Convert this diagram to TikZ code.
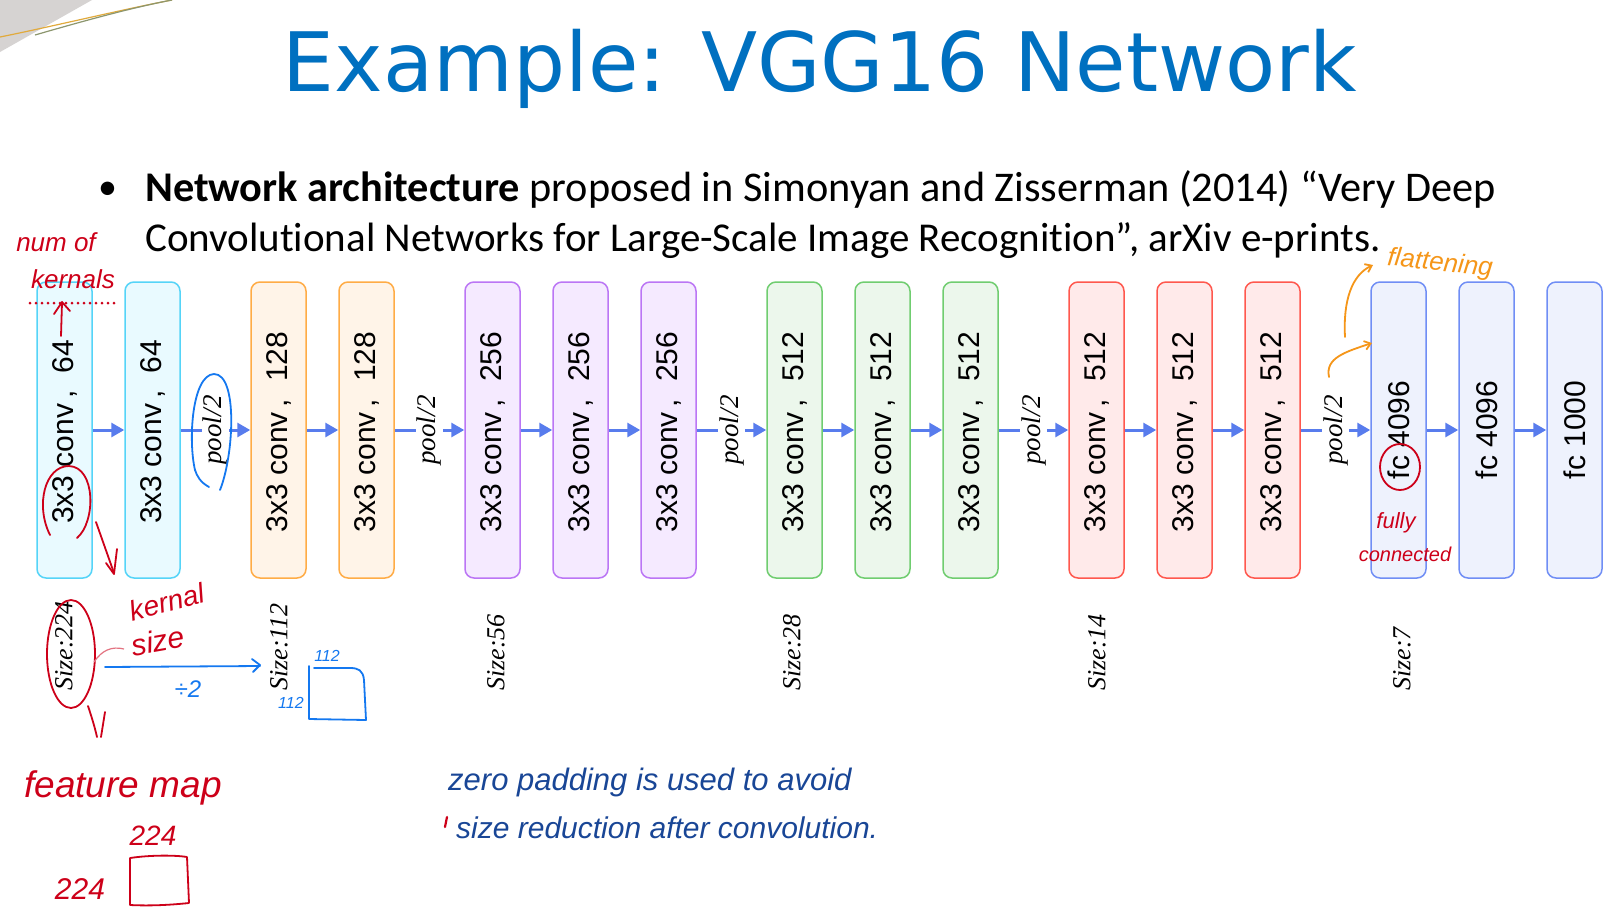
\documentclass[tikz,border=0pt]{standalone}
\usepackage{fontspec}
\setmainfont{Carlito}[Ligatures=NoCommon]
\newfontfamily\titlefont{DejaVu Sans}
\newfontfamily\arialfont{Liberation Sans}
\newfontfamily\timesfont{Liberation Serif}
\newfontfamily\handfont{Liberation Sans}
\usetikzlibrary{arrows.meta}

\definecolor{titleblue}{RGB}{0,112,192}
\definecolor{arrowblue}{RGB}{88,124,237}
\definecolor{cyanB}{RGB}{85,212,248}   \definecolor{cyanF}{RGB}{233,250,255}
\definecolor{orangeB}{RGB}{255,172,70} \definecolor{orangeF}{RGB}{255,244,232}
\definecolor{purpleB}{RGB}{187,118,245}\definecolor{purpleF}{RGB}{245,234,255}
\definecolor{greenB}{RGB}{112,205,112} \definecolor{greenF}{RGB}{236,247,236}
\definecolor{redB}{RGB}{255,88,78}     \definecolor{redF}{RGB}{255,234,234}
\definecolor{blueB}{RGB}{112,142,245}  \definecolor{blueF}{RGB}{238,242,253}
\definecolor{inkred}{RGB}{205,0,25}
\definecolor{inkblue}{RGB}{20,120,240}
\definecolor{inknavy}{RGB}{25,70,150}
\definecolor{inkorange}{RGB}{245,150,25}
\definecolor{slidegrey}{RGB}{214,211,210}
\definecolor{slidegold}{RGB}{225,170,60}
\definecolor{slideolive}{RGB}{140,150,110}

\newcommand{\convtxt}[1]{\rotatebox{90}{3x3 conv\hspace{5pt},\hspace{17pt}#1\hspace{4pt}}}
\newcommand{\fctxt}[1]{\rotatebox{90}{fc #1}}

\tikzset{
  layer/.style 2 args={draw=#1, fill=#2, line width=1.5pt, rounded corners=9pt,
    minimum width=55pt, minimum height=296pt, inner sep=0pt,
    font=\arialfont\fontsize{30}{36}\selectfont},
  arr/.style={draw=arrowblue, line width=3pt, -{Triangle[length=13pt,width=14pt]}},
  poollbl/.style={fill=white, inner sep=1pt, font=\timesfont\itshape\fontsize{27}{30}\selectfont},
  sizelbl/.style={anchor=south, inner sep=0pt, font=\timesfont\itshape\fontsize{26}{30}\selectfont},
  hand/.style={inner sep=0pt, font=\handfont\itshape\fontsize{#1}{#1}\selectfont},
  pen/.style={line width=1.8pt, line cap=round, line join=round},
}

\begin{document}
\begin{tikzpicture}[x=1pt, y=-1pt]
\useasboundingbox (0,0) rectangle (1619,919);
\fill[white] (0,0) rectangle (1619,919);

% slide corner decoration
\fill[slidegrey] (0,0) -- (92,0) -- (0,52) -- cycle;
\draw[slidegold, line width=1.2pt] (0,37) .. controls (50,27) and (120,10) .. (172,0);
\draw[slideolive, line width=1.2pt] (35,35) .. controls (80,22) and (130,8) .. (172,0);

% title and bullet text
\node[anchor=base, inner sep=0pt, text=titleblue, font=\titlefont\fontsize{82}{90}\selectfont]
  (title) at (820,91) {Example: VGG16 Network};
\node[anchor=base west, inner sep=0pt, font=\fontsize{38}{44}\selectfont] (dot) at (98,199) {•};
\node[anchor=base west, inner sep=0pt, font=\fontsize{42.3}{50}\selectfont] (line1) at (145,201)
  {\textbf{Network architecture} proposed in Simonyan and Zisserman (2014) “Very Deep};
\node[anchor=base west, inner sep=0pt, font=\fontsize{41}{50}\selectfont] (line2) at (145,251)
  {Convolutional Networks for Large-Scale Image Recognition”, arXiv e-prints.};

% layers
\node[layer={cyanB}{cyanF}]     (b1)  at (64.5,430)   {\convtxt{64}};
\node[layer={cyanB}{cyanF}]     (b2)  at (152.5,430)  {\convtxt{64}};
\node[layer={orangeB}{orangeF}] (b3)  at (278.5,430)  {\convtxt{128}};
\node[layer={orangeB}{orangeF}] (b4)  at (366.5,430)  {\convtxt{128}};
\node[layer={purpleB}{purpleF}] (b5)  at (492.5,430)  {\convtxt{256}};
\node[layer={purpleB}{purpleF}] (b6)  at (580.5,430)  {\convtxt{256}};
\node[layer={purpleB}{purpleF}] (b7)  at (668.5,430)  {\convtxt{256}};
\node[layer={greenB}{greenF}]   (b8)  at (794.5,430)  {\convtxt{512}};
\node[layer={greenB}{greenF}]   (b9)  at (882.5,430)  {\convtxt{512}};
\node[layer={greenB}{greenF}]   (b10) at (970.5,430)  {\convtxt{512}};
\node[layer={redB}{redF}]       (b11) at (1096.5,430) {\convtxt{512}};
\node[layer={redB}{redF}]       (b12) at (1184.5,430) {\convtxt{512}};
\node[layer={redB}{redF}]       (b13) at (1272.5,430) {\convtxt{512}};
\node[layer={blueB}{blueF}]     (b14) at (1398.5,430) {\fctxt{4096}};
\node[layer={blueB}{blueF}]     (b15) at (1486.5,430) {\fctxt{4096}};
\node[layer={blueB}{blueF}]     (b16) at (1574.5,430) {\fctxt{1000}};

% connections
\draw[arr] (b1.east) -- (b2.west);
\draw[arr] (b2.east) -- node[poollbl] (p1) {\rotatebox{90}{pool/2}} (b3.west);
\draw[arr] (b3.east) -- (b4.west);
\draw[arr] (b4.east) -- node[poollbl] (p2) {\rotatebox{90}{pool/2}} (b5.west);
\draw[arr] (b5.east) -- (b6.west);
\draw[arr] (b6.east) -- (b7.west);
\draw[arr] (b7.east) -- node[poollbl] (p3) {\rotatebox{90}{pool/2}} (b8.west);
\draw[arr] (b8.east) -- (b9.west);
\draw[arr] (b9.east) -- (b10.west);
\draw[arr] (b10.east) -- node[poollbl] (p4) {\rotatebox{90}{pool/2}} (b11.west);
\draw[arr] (b11.east) -- (b12.west);
\draw[arr] (b12.east) -- (b13.west);
\draw[arr] (b13.east) -- node[poollbl] (p5) {\rotatebox{90}{pool/2}} (b14.west);
\draw[arr] (b14.east) -- (b15.west);
\draw[arr] (b15.east) -- (b16.west);

% feature map sizes
\node[sizelbl] (s1) at (64,691)   {\rotatebox{90}{Size:224}};
\node[sizelbl] (s2) at (279,691)  {\rotatebox{90}{Size:112}};
\node[sizelbl] (s3) at (496,691)  {\rotatebox{90}{Size:56}};
\node[sizelbl] (s4) at (792,691)  {\rotatebox{90}{Size:28}};
\node[sizelbl] (s5) at (1097,691) {\rotatebox{90}{Size:14}};
\node[sizelbl] (s6) at (1402,691) {\rotatebox{90}{Size:7}};

% ---- red notes: kernels and kernel size ----
\node[hand=26, text=inkred] (numof) at (56,242) {num of};
\node[hand=26, text=inkred] (kernals) at (73,279) {kernals};
\draw[inkred, line width=3pt, line cap=round, dash pattern=on 0pt off 6pt] (30,303) -- (116,303);
\draw[inkred, pen] (61,336) -- (62,303);
\draw[inkred, pen] (54,314) -- (62,302) -- (70,311);
\draw[inkred, pen] (50,535) .. controls (35,505) and (45,466) .. (69,466)
  .. controls (96,467) and (96,522) .. (77,538);
\draw[inkred, pen] (96,522) -- (114,573);
\draw[inkred, pen] (106,563) -- (114,574) -- (117,549);
\node[hand=28, text=inkred, rotate=15] (kernal) at (167,602) {kernal};
\node[hand=30, text=inkred, rotate=10] (ksize) at (158,641) {size};
\draw[inkred, pen] (71,654) ellipse [x radius=24, y radius=54];
\draw[inkred!55, line width=1.2pt] (94,662) .. controls (102,650) and (112,646) .. (124,649);
\draw[inkred, pen] (88,706) .. controls (92,718) and (95,728) .. (97,737);
\draw[inkred, pen] (105,712) -- (101,737);
\node[hand=37, text=inkred] (fmap) at (123,788) {feature map};
\node[hand=28, text=inkred] (w224) at (153,836) {224};
\node[hand=30, text=inkred] (h224) at (80,889) {224};
\draw[inkred, pen] (130,858) .. controls (150,855) and (175,855) .. (187,857)
  -- (189,903) .. controls (170,905) and (150,906) .. (130,905) -- cycle;

% ---- blue notes: pooling halves the size ----
\draw[inkblue, pen] (195,470) .. controls (188,440) and (192,375) .. (214,374)
  .. controls (238,374) and (234,455) .. (220,490);
\draw[inkblue, pen] (209,487) .. controls (200,482) and (197,476) .. (195,470);
\coordinate (hs) at (105,667);
\coordinate (he) at (260,666);
\draw[inkblue, pen] (hs) -- (he);
\draw[inkblue, pen] (252,659) -- (260,665) -- (253,672);
\node[hand=24, text=inkblue] (div2) at (188,689) {÷2};
\node[hand=16, text=inkblue] (w112) at (327,656) {112};
\node[hand=16, text=inkblue] (h112) at (291,703) {112};
\draw[inkblue, pen] (309,666) -- (309,719) -- (366,720) -- (364,680)
  .. controls (363,670) and (358,668) .. (350,668) -- (314,668);

% ---- padding note ----
\node[hand=31, text=inknavy, anchor=base west] (pad1) at (448,790) {zero padding is used to avoid};
\node[hand=30, text=inknavy, anchor=base west] (pad2) at (456,838) {size reduction after convolution.};
\draw[inkred, line width=2.2pt, line cap=round] (447,817) -- (445,827);

% ---- fully connected part ----
\node[hand=26, text=inkorange, rotate=-6] (flat) at (1440,264) {flattening};
\draw[inkorange, pen, -{Straight Barb[length=6pt,width=9pt]}] (1345,337) .. controls (1343,300) and (1352,275) .. (1373,265);
\draw[inkorange, pen, -{Straight Barb[length=6pt,width=9pt]}] (1329,377) .. controls (1325,358) and (1345,352) .. (1372,343);
\draw[inkred, pen] (1400,467) ellipse [x radius=20, y radius=23];
\node[hand=22, text=inkred] (fully) at (1396,523) {fully};
\node[hand=20, text=inkred] (conn) at (1405,554) {connected};
\end{tikzpicture}
\end{document}
